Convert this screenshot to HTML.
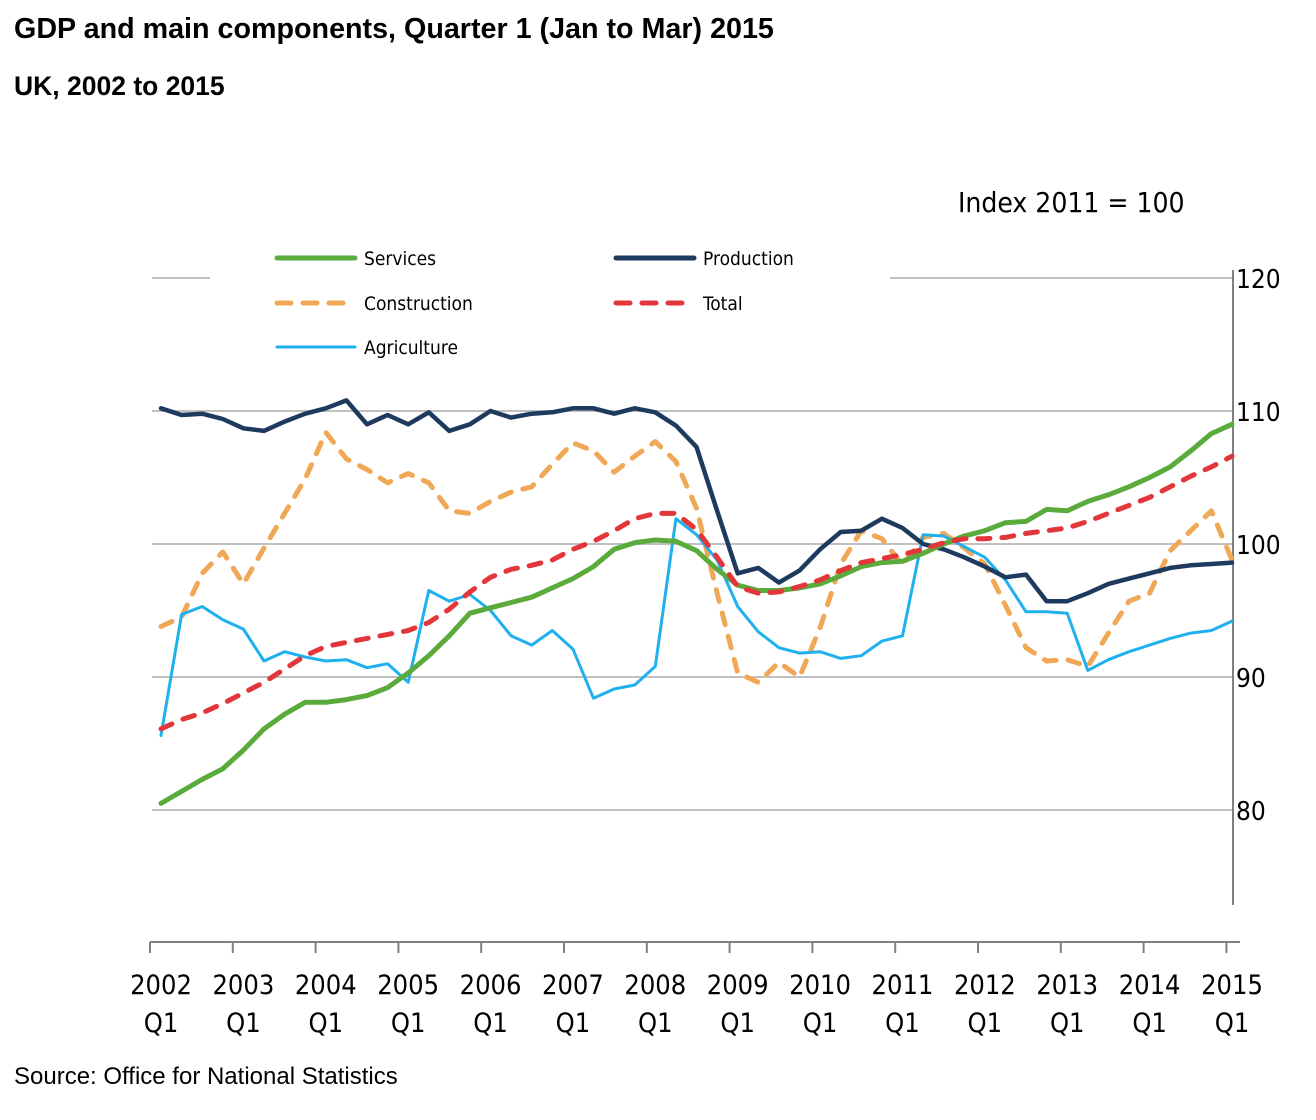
<!DOCTYPE html>
<html><head><meta charset="utf-8"><style>
html,body{margin:0;padding:0;background:#fff;}
body{width:1316px;height:1120px;position:relative;overflow:hidden;font-family:"Liberation Sans",sans-serif;}
.t{position:absolute;white-space:nowrap;color:#000;}
</style></head><body>
<div class="t" style="left:14px;top:13px;font-size:28.7px;font-weight:bold;">GDP and main components, Quarter 1 (Jan to Mar) 2015</div>
<div class="t" style="left:14px;top:71px;font-size:26.5px;font-weight:bold;">UK, 2002 to 2015</div>
<div class="t" style="left:14px;top:1063px;font-size:24px;">Source: Office for National Statistics</div>
<svg id="s" width="1316" height="1120" style="position:absolute;left:0;top:0" xmlns="http://www.w3.org/2000/svg" font-family="'DejaVu Sans Condensed','Liberation Sans',sans-serif"></svg>
<script>
var s=document.getElementById('s');var h='';
function Y(v){return 544-(v-100)*13.3;}
function X(i){return 161+i*(1232-161)/52;}
[110,100,90,80].forEach(function(v){h+='<line x1="152" x2="1232" y1="'+Y(v)+'" y2="'+Y(v)+'" stroke="#c0c0c0" stroke-width="2"/>';});
h+='<line x1="152" x2="210" y1="'+Y(120)+'" y2="'+Y(120)+'" stroke="#c0c0c0" stroke-width="2"/>';
h+='<line x1="890" x2="1232" y1="'+Y(120)+'" y2="'+Y(120)+'" stroke="#c0c0c0" stroke-width="2"/>';
h+='<line x1="1233" x2="1233" y1="270" y2="905" stroke="#808080" stroke-width="2"/>';
[120,110,100,90,80].forEach(function(v){h+='<text x="1236" y="'+(Y(v)+10)+'" font-size="26" fill="#000">'+v+'</text>';});
h+='<text x="958" y="212" font-size="28" fill="#000">Index 2011 = 100</text>';
h+='<line x1="150" x2="1240" y1="942" y2="942" stroke="#808080" stroke-width="2"/>';
for(var k=0;k<14;k++){var tx=150+k*82.8;h+='<line x1="'+tx+'" x2="'+tx+'" y1="942" y2="953" stroke="#808080" stroke-width="2"/>';
var cx=161+k*(1232-161)/13;h+='<text x="'+cx+'" y="994" font-size="27" text-anchor="middle" fill="#000">'+(2002+k)+'</text><text x="'+cx+'" y="1032" font-size="27" text-anchor="middle" fill="#000">Q1</text>';}
var d={
prod:[110.2,109.7,109.8,109.4,108.7,108.5,109.2,109.8,110.2,110.8,109.0,109.7,109.0,109.9,108.5,109.0,110.0,109.5,109.8,109.9,110.2,110.2,109.8,110.2,109.9,108.9,107.3,102.5,97.8,98.2,97.1,98.0,99.6,100.9,101.0,101.9,101.2,100.0,99.6,99.0,98.3,97.5,97.7,95.7,95.7,96.3,97.0,97.4,97.8,98.2,98.4,98.5,98.6],
serv:[80.5,81.4,82.3,83.1,84.5,86.1,87.2,88.1,88.1,88.3,88.6,89.2,90.3,91.6,93.1,94.8,95.2,95.6,96.0,96.7,97.4,98.3,99.6,100.1,100.3,100.2,99.5,98.1,96.9,96.5,96.5,96.7,97.0,97.6,98.3,98.6,98.7,99.3,100.0,100.6,101.0,101.6,101.7,102.6,102.5,103.2,103.7,104.3,105.0,105.8,107.0,108.3,109.0],
tot:[86.1,86.8,87.3,88.0,88.8,89.6,90.6,91.6,92.3,92.6,92.9,93.2,93.5,94.1,95.1,96.4,97.5,98.1,98.4,98.8,99.6,100.2,101.0,101.9,102.3,102.3,101.1,99.0,96.8,96.3,96.4,96.8,97.3,98.0,98.6,98.9,99.2,99.6,100.1,100.4,100.4,100.5,100.8,101.0,101.2,101.7,102.3,102.9,103.5,104.3,105.1,105.8,106.6],
cons:[93.8,94.5,97.8,99.4,97.0,99.7,102.3,104.9,108.4,106.4,105.6,104.6,105.3,104.6,102.5,102.3,103.2,103.9,104.3,106.0,107.6,107.0,105.4,106.6,107.7,106.2,102.7,96.3,90.3,89.6,91.1,90.0,93.7,98.5,101.0,100.4,98.4,100.5,100.8,99.7,98.5,95.4,92.2,91.2,91.3,90.8,93.3,95.7,96.3,99.5,101.0,102.5,98.8],
agri:[85.6,94.7,95.3,94.3,93.6,91.2,91.9,91.5,91.2,91.3,90.7,91.0,89.6,96.5,95.7,96.2,95.0,93.1,92.4,93.5,92.1,88.4,89.1,89.4,90.8,101.9,100.7,98.8,95.3,93.4,92.2,91.8,91.9,91.4,91.6,92.7,93.1,100.7,100.6,99.8,99.0,97.3,94.9,94.9,94.8,90.5,91.3,91.9,92.4,92.9,93.3,93.5,94.2]};
function pl(a,c,w,da){var p=a.map(function(v,i){return X(i).toFixed(1)+','+Y(v).toFixed(1);}).join(' ');
return '<polyline points="'+p+'" fill="none" stroke="'+c+'" stroke-width="'+w+'" stroke-linejoin="round" stroke-linecap="round"'+(da?' stroke-dasharray="'+da+'"':'')+'/>';}
h+=pl(d.cons,'#f0a857',5,'12 12');
h+=pl(d.agri,'#1fb0ee',3);
h+=pl(d.prod,'#1f3a5f',4.5);
h+=pl(d.serv,'#5aaa3c',5);
h+=pl(d.tot,'#e2363a',5,'12 12');
function lg(x,y,c,w,da,t){h+='<line x1="'+x+'" x2="'+(x+78)+'" y1="'+y+'" y2="'+y+'" stroke="'+c+'" stroke-width="'+w+'" stroke-linecap="round"'+(da?' stroke-dasharray="'+da+'"':'')+'/><text x="'+(x+87)+'" y="'+(y+7)+'" font-size="19" fill="#000">'+t+'</text>';}
lg(277,258,'#5aaa3c',5,'','Services');
lg(616,258,'#1f3a5f',5,'','Production');
lg(277,303,'#f0a857',5,'14 12','Construction');
lg(616,303,'#e2363a',5,'14 12','Total');
lg(277,347,'#1fb0ee',3,'','Agriculture');
s.innerHTML=h;
</script>
</body></html>
